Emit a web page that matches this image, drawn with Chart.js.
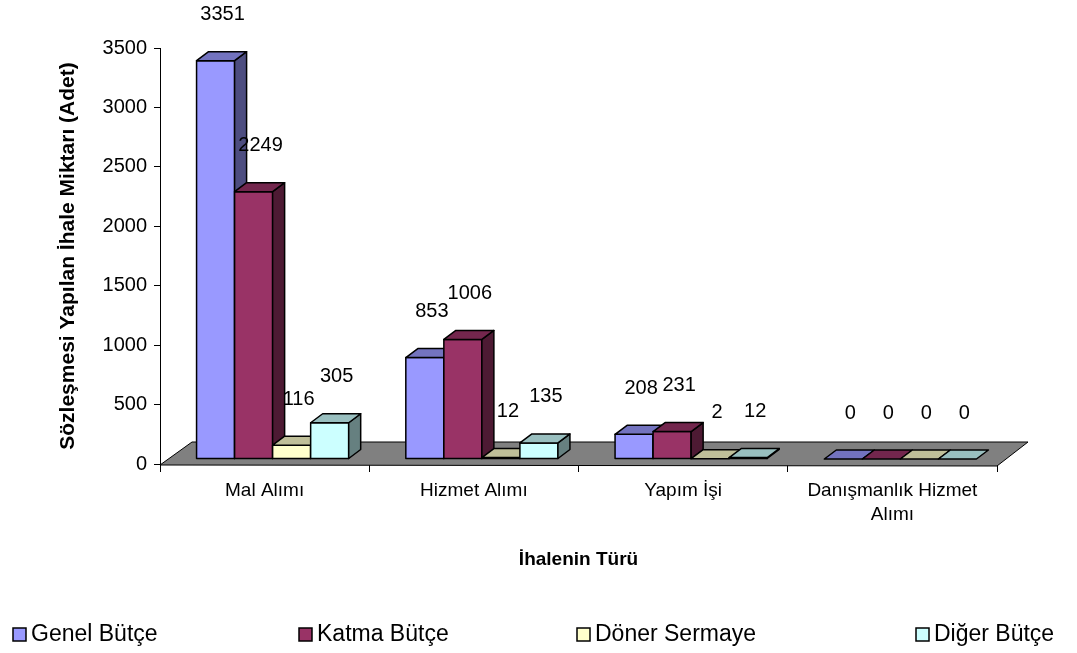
<!DOCTYPE html>
<html>
<head>
<meta charset="utf-8">
<script src="https://cdn.jsdelivr.net/npm/chart.js@4/dist/chart.umd.min.js"></script>
<style>
  body { margin: 0; background: #fff; }
</style>
</head>
<body>
<canvas id="chart" width="1077" height="653"></canvas>
<script>
const categories = ['Mal Alımı', 'Hizmet Alımı', 'Yapım İşi', ['Danışmanlık Hizmet', 'Alımı']];
const seriesNames = ['Genel Bütçe', 'Katma Bütçe', 'Döner Sermaye', 'Diğer Bütçe'];
const genelButce = [3351, 853, 208, 0];
const katmaButce = [2249, 1006, 231, 0];
const donerSermaye = [116, 12, 2, 0];
const digerButce = [305, 135, 12, 0];
const yTickValues = [0, 500, 1000, 1500, 2000, 2500, 3000, 3500];

const colors = ['#9999FF', '#993366', '#FFFFCC', '#CCFFFF'];
const legendX = [13, 299, 577, 916];

Chart.defaults.font.family = "'Liberation Sans', Arial, sans-serif";
Chart.defaults.color = '#000';

// darken a hex colour for top / side faces
function shade(hex, f) {
    let r = parseInt(hex.slice(1, 3), 16);
    let g = parseInt(hex.slice(3, 5), 16);
    let b = parseInt(hex.slice(5, 7), 16);
    return 'rgb(' + Math.round(r * f) + ',' + Math.round(g * f) + ',' + Math.round(b * f) + ')';
}

function poly(ctx, pts, fill) {
    ctx.beginPath();
    ctx.moveTo(pts[0][0], pts[0][1]);
    for (let i = 1; i < pts.length; i++) ctx.lineTo(pts[i][0], pts[i][1]);
    ctx.closePath();
    ctx.fillStyle = fill;
    ctx.fill();
    ctx.stroke();
}

// bars are drawn as 3D boxes standing on a grey floor
const bars3d = {
    id: 'bars3d',
    beforeDatasetsDraw(chart) {
        const ctx = chart.ctx;
        const area = chart.chartArea;
        const dx = 12, dy = -9;     // bar depth
        const sx = 8, sy = -5;      // bar front offset on the floor

        ctx.save();
        ctx.strokeStyle = '#000';
        ctx.lineWidth = 1;
        poly(ctx, [
            [area.left, area.bottom + 1],
            [area.right, area.bottom + 2],
            [area.right + 31, area.bottom - 22],
            [area.left + 32, area.bottom - 22]
        ], '#808080');

        ctx.lineWidth = 1.5;
        ctx.lineJoin = 'round';
        chart.data.datasets.forEach((ds, i) => {
            const meta = chart.getDatasetMeta(i);
            const col = colors[i];
            meta.data.forEach(el => {
                const p = el.getProps(['x', 'y', 'base', 'width'], true);
                const x0 = p.x - p.width / 2 + sx;
                const x1 = p.x + p.width / 2 + sx;
                const yt = p.y + sy;
                const yb = p.base + sy;
                if (yb - yt > 0.5) {
                    ctx.fillStyle = col;
                    ctx.fillRect(x0, yt, x1 - x0, yb - yt);
                    ctx.strokeRect(x0, yt, x1 - x0, yb - yt);
                    poly(ctx, [[x1, yt], [x1 + dx, yt + dy], [x1 + dx, yb + dy], [x1, yb]], shade(col, 0.5));
                }
                poly(ctx, [[x0, yt], [x1, yt], [x1 + dx, yt + dy], [x0 + dx, yt + dy]], shade(col, 0.75));
            });
        });

        // value labels
        ctx.fillStyle = '#000';
        ctx.font = "20px 'Liberation Sans', Arial, sans-serif";
        ctx.textAlign = 'center';
        ctx.textBaseline = 'middle';
        chart.data.datasets.forEach((ds, i) => {
            chart.getDatasetMeta(i).data.forEach((el, j) => {
                const p = el.getProps(['x', 'y'], true);
                ctx.fillText(String(ds.data[j]), p.x + 15, p.y + sy - 46);
            });
        });
        ctx.restore();
        return false;
    },
    afterDraw(chart) {
        const ctx = chart.ctx;
        ctx.save();
        ctx.font = "23px 'Liberation Sans', Arial, sans-serif";
        ctx.textBaseline = 'middle';
        ctx.textAlign = 'left';
        ctx.lineWidth = 1.5;
        ctx.strokeStyle = '#000';
        chart.data.datasets.forEach((ds, i) => {
            const x = legendX[i];
            ctx.fillStyle = colors[i];
            ctx.fillRect(x, 628, 13, 13);
            ctx.strokeRect(x, 628, 13, 13);
            ctx.fillStyle = '#000';
            ctx.fillText(ds.label, x + 18, 635);
        });
        ctx.restore();
    }
};

const values = [genelButce, katmaButce, donerSermaye, digerButce];

new Chart(document.getElementById('chart'), {
    type: 'bar',
    data: {
        labels: categories,
        datasets: seriesNames.map((name, i) => ({
            label: name,
            data: values[i],
            backgroundColor: colors[i],
            borderColor: '#000',
            borderWidth: 1.5,
            categoryPercentage: 0.727,
            barPercentage: 1
        }))
    },
    options: {
        responsive: false,
        animation: false,
        layout: {
            padding: { left: 0, right: 80, top: 48, bottom: 73 }
        },
        plugins: {
            legend: { display: false },
            tooltip: { enabled: false }
        },
        scales: {
            x: {
                grid: { offset: true, drawOnChartArea: false, tickLength: 8, color: '#000' },
                border: { color: '#000', width: 1 },
                ticks: {
                    font: { size: 19, lineHeight: 1.3 },
                    color: '#000',
                    padding: 6,
                    maxRotation: 0,
                    autoSkip: false
                },
                title: {
                    display: true,
                    text: 'İhalenin Türü',
                    font: { size: 19, weight: 'bold' },
                    padding: { top: 0, bottom: 9 }
                },
                afterFit(scale) { scale.height = 116; }
            },
            y: {
                min: 0,
                max: 3500,
                afterBuildTicks(scale) { scale.ticks = yTickValues.map(v => ({ value: v })); },
                grid: { drawOnChartArea: false, tickLength: 6, color: '#000' },
                border: { color: '#000', width: 1 },
                ticks: {
                    font: { size: 20 },
                    color: '#000',
                    padding: 7,
                    callback: v => String(v)
                },
                title: {
                    display: true,
                    text: 'Sözleşmesi Yapılan İhale Miktarı (Adet)',
                    font: { size: 21, weight: 'bold' },
                    padding: { top: 56, bottom: 0 }
                },
                afterFit(scale) { scale.width = 160; }
            }
        }
    },
    plugins: [bars3d]
});
</script>
</body>
</html>
